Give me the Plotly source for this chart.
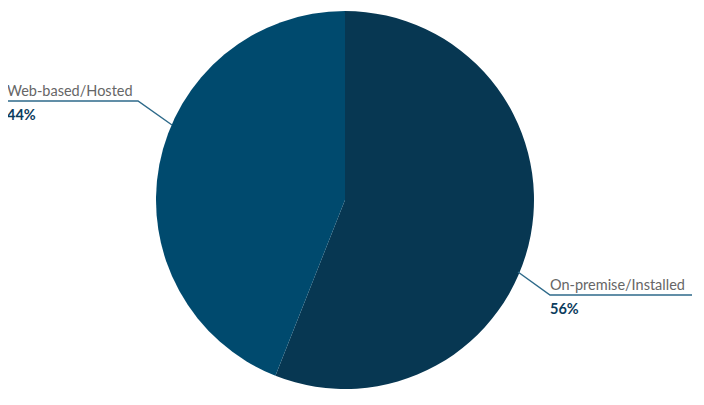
import plotly.graph_objects as go

# data
categories = ["On-premise/Installed", "Web-based/Hosted"]
shares = [56, 44]
colors = ["#073752", "#004A6E"]

W, H = 704, 405
OFF = 8  # page body margin shifts the figure


def px(x, y):
    # screen pixel (top-left origin) -> paper coords
    return (x - OFF) / W, 1 - (y - OFF) / H


fig = go.Figure()

dx0, dy1 = px(156, 11)
dx1, dy0 = px(534, 389)
fig.add_trace(go.Pie(
    labels=categories,
    values=shares,
    sort=False,
    direction="clockwise",
    rotation=0,
    marker={"colors": colors, "line": {"width": 0}},
    textinfo="none",
    hoverinfo="label+percent",
    domain={"x": [dx0, dx1], "y": [dy0, dy1]},
    showlegend=False,
))

line_color = "#2E6A8A"
label_font = {"family": "Lato, Open Sans, sans-serif", "size": 14.5, "color": "#666666"}
pct_font = {"family": "Lato, Open Sans, sans-serif", "size": 14.5, "color": "#0B3C5D"}

# leader lines: (edge point, elbow, end) in pixels, plus text anchor
leaders = {
    "Web-based/Hosted": {"pts": [(172, 125), (138, 101), (8, 101)], "tx": 8, "ty": 90},
    "On-premise/Installed": {"pts": [(518, 272), (550, 295), (692, 295)], "tx": 551, "ty": 284},
}

shapes = []
annotations = []
for cat, val in zip(categories, shares):
    info = leaders[cat]
    pts = [px(x, y) for x, y in info["pts"]]
    path = "M {} {} L {} {} L {} {}".format(*[c for p in pts for c in p])
    shapes.append({"type": "path", "xref": "paper", "yref": "paper", "path": path,
                   "line": {"color": line_color, "width": 1.5}})
    x0, y0 = px(info["tx"], info["ty"])
    annotations.append({"x": x0, "y": y0, "xref": "paper", "yref": "paper",
                        "xanchor": "left", "yanchor": "middle", "showarrow": False,
                        "text": cat, "font": label_font, "xshift": -3})
    x1, y1 = px(info["tx"], info["ty"] + 24)
    annotations.append({"x": x1, "y": y1, "xref": "paper", "yref": "paper",
                        "xanchor": "left", "yanchor": "middle", "showarrow": False,
                        "text": f"<b>{val}%</b>", "font": pct_font, "xshift": -3})

fig.update_layout(
    width=W,
    height=H,
    margin={"l": 0, "r": 0, "t": 0, "b": 0},
    paper_bgcolor="white",
    plot_bgcolor="white",
    shapes=shapes,
    annotations=annotations,
)

fig.write_html("out.html")
